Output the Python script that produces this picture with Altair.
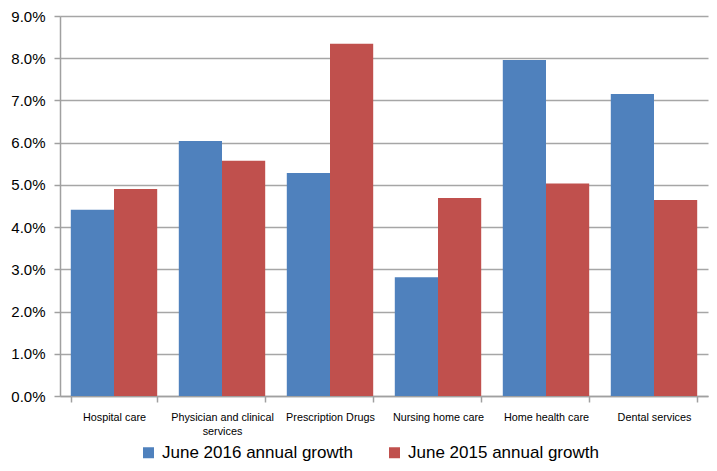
import altair as alt
import pandas as pd

categories = ["Hospital care", "Physician and clinical services", "Prescription Drugs",
              "Nursing home care", "Home health care", "Dental services"]
series = ["June 2016 annual growth", "June 2015 annual growth"]
growth_2016 = [0.0441, 0.0604, 0.0528, 0.0281, 0.0796, 0.0715]
growth_2015 = [0.0490, 0.0557, 0.0834, 0.0469, 0.0503, 0.0464]
colors = ["#4F81BD", "#C0504D"]

rows = []
for c, a, b in zip(categories, growth_2016, growth_2015):
    rows.append({"category": c, "series": series[0], "value": a})
    rows.append({"category": c, "series": series[1], "value": b})
df = pd.DataFrame(rows)

font = "Liberation Sans"

chart = alt.Chart(df).mark_bar().encode(
    x=alt.X("category:N", sort=categories,
            scale=alt.Scale(paddingInner=0.2, paddingOuter=0.1),
            axis=alt.Axis(title=None, labelAngle=0, labelFontSize=10.8, labelFont=font,
                          labelColor="#000000", domainColor="#A0A0A0", domainWidth=1.5,
                          tickColor="#A0A0A0", tickWidth=1.5, tickSize=6, tickBand="extent",
                          labelPadding=9, labelLimit=200, labelBaseline="top",
                          labelExpr="datum.label == 'Physician and clinical services' ? ['Physician and clinical', 'services'] : datum.label",
                          labelLineHeight=14)),
    xOffset=alt.XOffset("series:N", sort=series),
    y=alt.Y("value:Q",
            scale=alt.Scale(domain=[0, 0.09], nice=False),
            axis=alt.Axis(title=None, format=".1%", values=[i / 100 for i in range(10)],
                          labelFontSize=15, labelFont=font, labelColor="#000000",
                          domainColor="#A0A0A0", domainWidth=1.5, tickColor="#A0A0A0",
                          tickWidth=1.5, tickSize=6, labelPadding=9,
                          gridColor="#A6A6A6", gridWidth=1.5)),
    color=alt.Color("series:N", sort=series,
                    scale=alt.Scale(domain=series, range=colors),
                    legend=alt.Legend(title=None, orient="none", direction="horizontal",
                                      legendX=80, legendY=428, symbolType="square",
                                      symbolSize=121, symbolStrokeWidth=0, labelFontSize=17,
                                      labelFont=font, labelColor="#000000", labelOffset=5,
                                      labelLimit=400, columnPadding=33, padding=0)),
).properties(
    width=648, height=380,
    autosize=alt.AutoSizeParams(type="none"),
    padding={"left": 52, "top": 8, "right": 1, "bottom": 67},
).configure_view(stroke=None)

chart.save("out.html", embed_options={"renderer": "svg", "actions": False})
